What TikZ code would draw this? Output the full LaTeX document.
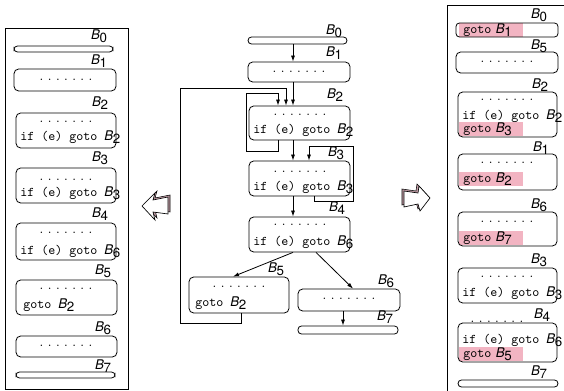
\documentclass[tikz,border=0pt]{standalone}
\usepackage{fontspec}
\setsansfont{TeX Gyre Heros}
\usetikzlibrary{fit,arrows.meta}
\definecolor{hlpink}{RGB}{242,180,194}
\definecolor{arrshade}{RGB}{196,158,168}
\newcommand\blab[1]{\textsf{\textit{B}\kern-0.3pt\raisebox{-0.5ex}{#1}}}
\newcommand\dotrow{.\ .\ .\ .\ .\ .\ .}
\tikzset{
  blk/.style={draw, rounded corners=3.5pt, inner sep=0pt},
  bar/.style={draw, rounded corners=2.6pt, inner sep=0pt},
  lbl/.style={inner sep=0pt},
  dots/.style={inner sep=0pt},
  code/.style={font=\ttfamily, inner sep=0pt, anchor=west},
  hl/.style={font=\ttfamily, anchor=west, fill=hlpink, inner xsep=3pt, inner ysep=0pt,
    text width=42pt, minimum height=9.75pt},
}
\begin{document}
\begin{tikzpicture}[x=0.75pt, y=-0.75pt, line width=0.6pt,
  >={Latex[length=4.5pt,width=3pt]}]
\useasboundingbox (0,0) rectangle (564,391);

% left: layout after
\draw (5,28) rectangle (128,389);
\node[bar, fit={(14,46)(113,52)}] (l0) {};
\node[blk, fit={(14,69)(116,91)}] (l1) {};
\node[blk, fit={(16,113)(116,148)}] (l2) {};
\node[blk, fit={(16,168)(116,203)}] (l3) {};
\node[blk, fit={(16,223)(116,260)}] (l4) {};
\node[blk, fit={(16,280)(117,315)}] (l5) {};
\node[blk, fit={(16,336)(117,357)}] (l6) {};
\node[bar, fit={(16,372)(115,378)}] (l7) {};
\node[lbl] (l0n) at (99,36) {\blab{0}};
\node[lbl] (l1n) at (99,61) {\blab{1}};
\node[lbl] (l2n) at (100,103) {\blab{2}};
\node[lbl] (l3n) at (100,158) {\blab{3}};
\node[lbl] (l4n) at (100,214) {\blab{4}};
\node[lbl] (l5n) at (103,271) {\blab{5}};
\node[lbl] (l6n) at (103,328) {\blab{6}};
\node[lbl] (l7n) at (103,366) {\blab{7}};
\node[dots] (l1d) at (66,80) {\dotrow};
\node[dots] (l2d) at (66,122) {\dotrow};
\node[code] (l2c) at (20,137) {if (e) goto \blab{2}};
\node[dots] (l3d) at (66,180) {\dotrow};
\node[code] (l3c) at (20,193) {if (e) goto \blab{3}};
\node[dots] (l4d) at (66,233) {\dotrow};
\node[code] (l4c) at (20,251) {if (e) goto \blab{6}};
\node[dots] (l5d) at (66,289) {\dotrow};
\node[code] (l5c) at (23,305) {goto \blab{2}};
\node[dots] (l6d) at (66,346) {\dotrow};

% middle: flow graph
\node[bar, fit={(248,37)(347,44)}] (m0) {};
\node[blk, fit={(248,62)(350,82)}] (m1) {};
\node[blk, fit={(249,106)(350,140)}] (m2) {};
\node[blk, fit={(249,161)(350,196)}] (m3) {};
\node[blk, fit={(249,217)(350,252)}] (m4) {};
\node[blk, fit={(189,277)(289,313)}] (m5) {};
\node[blk, fit={(298,289)(400,311)}] (m6) {};
\node[bar, fit={(298,326)(398,334)}] (m7) {};
\node[lbl] (m0n) at (334,31) {\blab{0}};
\node[lbl] (m1n) at (334,53) {\blab{1}};
\node[lbl] (m2n) at (335,95) {\blab{2}};
\node[lbl] (m3n) at (336,153) {\blab{3}};
\node[lbl] (m4n) at (337,208) {\blab{4}};
\node[lbl] (m5n) at (276,269) {\blab{5}};
\node[lbl] (m6n) at (386,281) {\blab{6}};
\node[lbl] (m7n) at (385,317) {\blab{7}};
\node[dots] (m1d) at (299,72) {\dotrow};
\node[dots] (m2d) at (300,115) {\dotrow};
\node[code] (m2c) at (253,130) {if (e) goto \blab{2}};
\node[dots] (m3d) at (300,172) {\dotrow};
\node[code] (m3c) at (253,187) {if (e) goto \blab{3}};
\node[dots] (m4d) at (300,225) {\dotrow};
\node[code] (m4c) at (253,242) {if (e) goto \blab{6}};
\node[dots] (m5d) at (239,287) {\dotrow};
\node[code] (m5c) at (195,303) {goto \blab{2}};
\node[dots] (m6d) at (349,299) {\dotrow};

\coordinate (cm) at (293,0);
\coordinate (ca) at (286,0);
\coordinate (cb) at (278,0);
\coordinate (cc) at (309,0);
\coordinate (cd) at (314,0);
\coordinate (ce) at (241,0);
\coordinate (cf) at (343,0);
\coordinate (cg) at (233,0);
\coordinate (ch) at (316,0);
\coordinate (ci) at (353,0);
\draw[->] (m0.south -| cm) -- (m1.north -| cm);
\draw[->] (m1.south -| cm) -- (m2.north -| cm);
\draw[->] (m2.south -| cm) -- (m3.north -| cm);
\draw[->] (m3.south -| cm) -- (m4.north -| cm);
\draw[->] (m2.south -| cb) -- ++(0,11) -| ++(-32,-58) -| (m2.north -| cb);
\draw[->] (m3.south -| cd) -- ++(0,5) -| ++(39,-55) -| (m3.north -| cc);
\draw[->] (m5.south -| ce) -- ++(0,10) -| ++(-61,-235) -| (m2.north -| ca);
\draw[->] (m4.south -| cm) -- (m5.north -| cg);
\draw[->] (m4.south -| ch) -- (m6.north -| ci);
\draw[->] (m6.south -| cf) -- (m7.north -| cf);

% hollow arrows
\filldraw[fill=arrshade, line width=0.4pt, shift={(2,-2)}]
  (142,206) -- (155,193) -- (153,200) -- (168,197) -- (168,214) -- (153,212) -- (155,220) -- cycle;
\filldraw[fill=white, line width=0.5pt]
  (142,206) -- (155,193) -- (153,200) -- (168,197) -- (168,214) -- (153,212) -- (155,220) -- cycle;
\filldraw[fill=arrshade, line width=0.4pt, shift={(-2,-2)}]
  (430,198) -- (419,186) -- (418,193) -- (404,191) -- (404,207) -- (418,204) -- (420,211) -- cycle;
\filldraw[fill=white, line width=0.5pt]
  (430,198) -- (419,186) -- (418,193) -- (404,191) -- (404,207) -- (418,204) -- (420,211) -- cycle;

% right: layout before
\draw (564,5) -- (447,5) -- (447,391);
\node[hl] (r0h) at (459,30) {goto \blab{1}};
\node[hl] (r2h) at (459,129) {goto \blab{3}};
\node[hl] (r1h) at (459,179) {goto \blab{2}};
\node[hl] (r6h) at (459,238) {goto \blab{7}};
\node[hl, minimum height=8.5pt] (r4h) at (459,354) {goto \blab{5}};
\node[bar, fit={(456,23)(558,37)}] (r0) {};
\node[blk, fit={(456,52)(558,73)}] (r5) {};
\node[blk, fit={(458,92)(557,137)}] (r2) {};
\node[blk, fit={(458,154)(557,190)}] (r1) {};
\node[blk, fit={(458,212)(557,246)}] (r6) {};
\node[blk, fit={(458,268)(557,303)}] (r3) {};
\node[blk, fit={(458,323)(557,362)}] (r4) {};
\node[bar, fit={(458,380)(558,387)}] (r7) {};
\node[lbl] (r0n) at (539,15) {\blab{0}};
\node[lbl] (r5n) at (539,46) {\blab{5}};
\node[lbl] (r2n) at (540,85) {\blab{2}};
\node[lbl] (r1n) at (541,148) {\blab{1}};
\node[lbl] (r6n) at (539,205) {\blab{6}};
\node[lbl] (r3n) at (539,260) {\blab{3}};
\node[lbl] (r4n) at (542,315) {\blab{4}};
\node[lbl] (r7n) at (539,372) {\blab{7}};
\node[dots] (r5d) at (507,62) {\dotrow};
\node[dots] (r2d) at (507,100) {\dotrow};
\node[code] (r2c) at (462,116) {if (e) goto \blab{2}};
\node[dots] (r1d) at (507,163) {\dotrow};
\node[dots] (r6d) at (507,222) {\dotrow};
\node[dots] (r3d) at (507,277) {\dotrow};
\node[code] (r3c) at (462,293) {if (e) goto \blab{3}};
\node[dots] (r4d) at (497,322) {\dotrow};
\node[code] (r4c) at (462,340) {if (e) goto \blab{6}};
\end{tikzpicture}
\end{document}
